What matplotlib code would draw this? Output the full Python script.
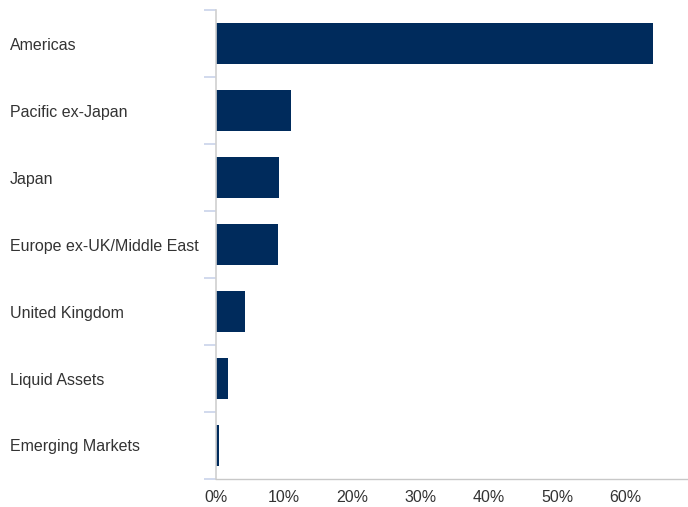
import matplotlib
matplotlib.use("Agg")
import matplotlib.pyplot as plt
import numpy as np

# regions top to bottom, share of portfolio in %
regions = ["Americas", "Pacific ex-Japan", "Japan", "Europe ex-UK/Middle East",
           "United Kingdom", "Liquid Assets", "Emerging Markets"]
weights = [64.1, 11.0, 9.2, 9.1, 4.2, 1.7, 0.45]
x_ticks = [0, 10, 20, 30, 40, 50, 60]
x_labels = ["0%", "10%", "20%", "30%", "40%", "50%", "60%"]

plt.rcParams["font.family"] = ["Liberation Sans", "DejaVu Sans"]

fig = plt.figure(figsize=(6.88, 5.07), dpi=100)
ax = fig.add_axes([216 / 688, 28 / 507, 472 / 688, 469 / 507])

y = np.arange(len(regions))
ax.barh(y, weights, height=0.61, color="#002b5c")
ax.set_ylim(len(regions) - 0.5, -0.5)
ax.set_xlim(0, 69.2)

# category labels, left aligned near the figure edge
ax.set_yticks(y)
ax.set_yticklabels(regions, ha="left", fontsize=11.5, color="#333333")
ax.tick_params(axis="y", which="major", length=0, pad=206 * 0.72)
ax.set_yticks(np.arange(len(regions) + 1) - 0.5, minor=True)
ax.tick_params(axis="y", which="minor", length=12 * 0.72, width=1.2, color="#c9d3ea")

ax.set_xticks(x_ticks)
ax.set_xticklabels(x_labels, fontsize=11.5, color="#333333")
ax.tick_params(axis="x", length=0, pad=8)

for s in ["top", "right"]:
    ax.spines[s].set_visible(False)
ax.spines["left"].set_color("#d0d0d0")
ax.spines["left"].set_linewidth(1.2)
ax.spines["bottom"].set_color("#c8c8c8")
ax.spines["bottom"].set_linewidth(1.0)

fig.savefig("out.png", dpi=100)
